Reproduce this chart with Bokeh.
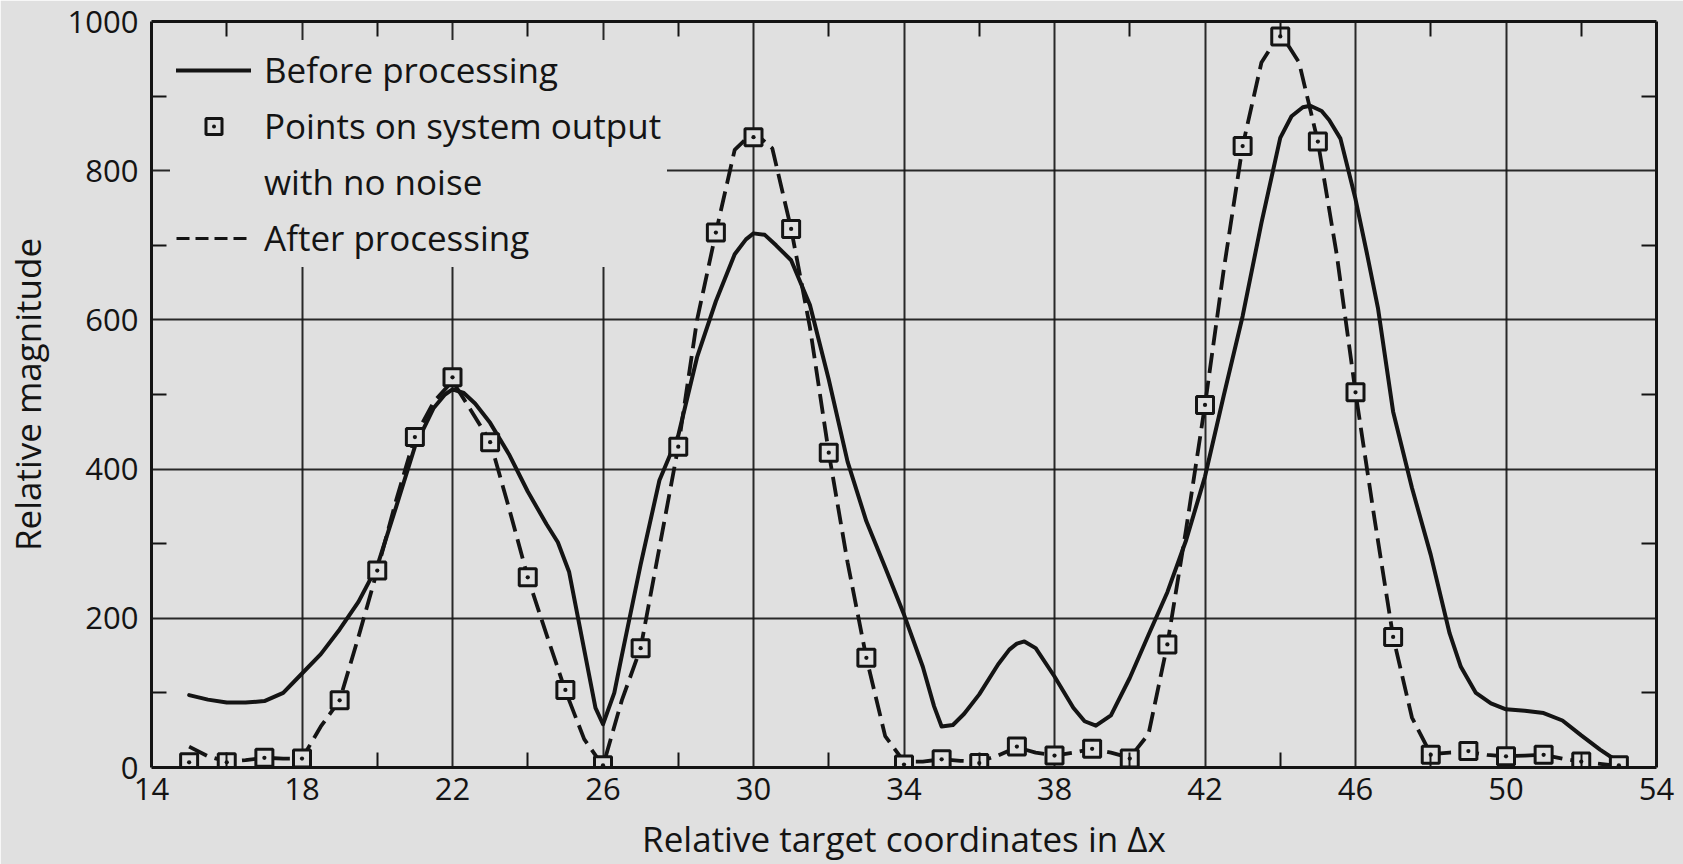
import numpy as np
from bokeh.plotting import figure
from bokeh.models import FixedTicker, LinearAxis, Range1d, Legend, LegendItem
from bokeh.embed import file_html
from bokeh.resources import INLINE

PAPER = "#e0e0e0"
INK = "#141414"
FONT = "Open Sans"

# ---- axis ticks ----
x_labels = [14, 18, 22, 26, 30, 34, 38, 42, 46, 50, 54]
x_minor = [16, 20, 24, 28, 32, 36, 40, 44, 48, 52]
x_grid = [18, 22, 26, 30, 34, 38, 42, 46, 50]
y_labels = [0, 200, 400, 600, 800, 1000]
y_minor = [100, 300, 500, 700, 900]
y_grid = [200, 400, 600, 800]

# ---- points on system output with no noise (squares) ----
pts_x = list(range(15, 54))
pts_y = [7, 7, 13, 12, 90, 264, 443, 523, 436, 255, 104, 3, 160, 430, 717,
         845, 722, 422, 147, 4, 11, 6, 28, 16, 25, 12, 165, 486, 833, 980,
         839, 503, 175, 17, 22, 15, 17, 8, 3]

# ---- after processing (dashed curve) ----
after_x = [15, 15.5, 16, 16.5, 17, 17.5, 18, 18.5, 19, 19.5, 20, 20.5, 21, 21.5,
           22, 22.5, 23, 23.5, 24, 24.5, 25, 25.5, 26, 26.5, 27, 27.5, 28, 28.5,
           29, 29.5, 30, 30.5, 31, 31.5, 32, 32.5, 33, 33.5, 34, 34.5, 35, 35.5,
           36, 36.5, 37, 37.5, 38, 38.5, 39, 39.5, 40, 40.5, 41, 41.5, 42, 42.5,
           43, 43.5, 44, 44.5, 45, 45.5, 46, 46.5, 47, 47.5, 48, 48.5, 49, 49.5,
           50, 50.5, 51, 51.5, 52, 52.5, 53]
after_y = [28, 15, 8, 10, 13, 12, 12, 55, 90, 175, 264, 358, 443, 490,
           518, 478, 437, 348, 255, 178, 103, 38, 2, 90, 160, 295, 430, 600,
           717, 828, 852, 830, 722, 590, 422, 275, 147, 42, 8, 8, 11, 9,
           8, 16, 27, 20, 16, 20, 25, 20, 13, 45, 165, 320, 486, 668,
           833, 945, 985, 945, 839, 688, 503, 335, 175, 67, 18, 20, 21, 17,
           15, 16, 17, 12, 8, 5, 2]

# ---- before processing (solid curve) ----
before_x = [15, 15.5, 16, 16.5, 17, 17.5, 18, 18.5, 19, 19.5, 20, 20.5, 21, 21.5,
            21.8, 22, 22.3, 22.6, 23, 23.5, 24, 24.5, 24.8, 25.1, 25.5, 25.8, 26,
            26.3, 26.5, 27, 27.5, 28, 28.5, 29, 29.5, 29.8, 30, 30.3, 30.6, 31,
            31.5, 32, 32.5, 33, 33.5, 34, 34.5, 34.8, 35, 35.3, 35.6, 36, 36.5,
            36.8, 37, 37.2, 37.5, 38, 38.5, 38.8, 39.1, 39.5, 40, 40.5, 41, 41.5,
            42, 42.5, 43, 43.5, 44, 44.3, 44.6, 44.8, 45.1, 45.3, 45.6, 46, 46.3,
            46.6, 47, 47.5, 48, 48.5, 48.8, 49.2, 49.6, 50, 50.5, 51, 51.5, 52,
            52.5, 53]
before_y = [97, 91, 87, 87, 89, 100, 126, 152, 185, 222, 270, 349, 430, 482,
            500, 507, 502, 488, 462, 420, 370, 326, 302, 262, 158, 80, 58,
            100, 150, 272, 385, 445, 550, 625, 688, 708, 716, 714, 700, 680,
            620, 520, 410, 330, 268, 205, 135, 82, 55, 57, 72, 98, 138,
            158, 166, 169, 160, 122, 80, 62, 56, 70, 120, 178, 235, 305,
            390, 499, 605, 730, 844, 873, 885, 887, 880, 868, 843, 762, 690,
            615, 477, 375, 285, 180, 135, 100, 86, 78, 76, 73, 63, 43,
            24, 7]

p = figure(width=1683, height=864,
           x_range=Range1d(14, 54), y_range=Range1d(0, 1000),
           output_backend="svg", toolbar_location=None,
           min_border_left=148, min_border_right=27,
           min_border_top=21, min_border_bottom=92,
           background_fill_color=PAPER, border_fill_color=PAPER,
           x_axis_label="Relative target coordinates in \u0394x",
           y_axis_label="Relative magnitude")
p.outline_line_color = None

xa = p.xaxis[0]
xa.ticker = FixedTicker(ticks=x_labels, minor_ticks=x_minor)
ya = p.yaxis[0]
ya.ticker = FixedTicker(ticks=y_labels, minor_ticks=y_minor)

for ax in (xa, ya):
    ax.axis_line_width = 3
    ax.axis_line_color = INK
    ax.major_tick_in = 0
    ax.major_tick_out = 0
    ax.minor_tick_in = 15
    ax.minor_tick_out = 0
    ax.minor_tick_line_width = 2
    ax.minor_tick_line_color = INK
    ax.major_label_text_font = FONT
    ax.major_label_text_font_size = "31px"
    ax.major_label_text_color = INK
    ax.axis_label_text_font = FONT
    ax.axis_label_text_font_size = "35px"
    ax.axis_label_text_font_style = "normal"
    ax.axis_label_text_color = INK

xa.major_label_standoff = 10
xa.axis_label_standoff = 12
ya.major_label_standoff = 13
ya.axis_label_standoff = 14

top = LinearAxis(ticker=FixedTicker(ticks=[], minor_ticks=x_minor))
right = LinearAxis(ticker=FixedTicker(ticks=[], minor_ticks=y_minor))
for ax in (top, right):
    ax.axis_line_width = 3
    ax.axis_line_color = INK
    ax.major_tick_in = 0
    ax.major_tick_out = 0
    ax.minor_tick_in = 15
    ax.minor_tick_out = 0
    ax.minor_tick_line_width = 2
    ax.minor_tick_line_color = INK
p.add_layout(top, "above")
p.add_layout(right, "right")

p.xgrid.ticker = FixedTicker(ticks=x_grid)
p.ygrid.ticker = FixedTicker(ticks=y_grid)
for g in (p.xgrid[0], p.ygrid[0]):
    g.grid_line_color = INK
    g.grid_line_width = 2
    g.grid_line_alpha = 0.9

dashed = p.line(after_x, after_y, line_color=INK, line_width=3.8,
                line_dash="20 8", line_join="round")
solid = p.line(before_x, before_y, line_color=INK, line_width=4,
               line_join="round", line_cap="round")
squares = p.scatter(pts_x, pts_y, marker="square_dot", size=17,
                    line_color=INK, line_width=3, fill_color=PAPER)

# legend-only renderers (one NaN row, nothing is drawn in the plot)
leg_dash = p.line([np.nan], [np.nan], line_color=INK, line_width=3.2,
                  line_dash="13 6")
blank = p.scatter([np.nan], [np.nan], marker="square", line_alpha=0, fill_alpha=0)

legend = Legend(items=[
    LegendItem(label="Before processing", renderers=[solid]),
    LegendItem(label="Points on system output", renderers=[squares]),
    LegendItem(label="with no noise", renderers=[blank]),
    LegendItem(label="After processing", renderers=[leg_dash]),
], location="top_left")
legend.label_text_font = FONT
legend.label_text_font_size = "35px"
legend.label_text_color = INK
legend.glyph_width = 75
legend.glyph_height = 40
legend.label_standoff = 13
legend.spacing = 9
legend.padding = 6
legend.margin = 19
legend.background_fill_color = PAPER
legend.background_fill_alpha = 1
legend.border_line_alpha = 0
p.add_layout(legend)

open("out.html", "w").write(file_html(p, INLINE))
